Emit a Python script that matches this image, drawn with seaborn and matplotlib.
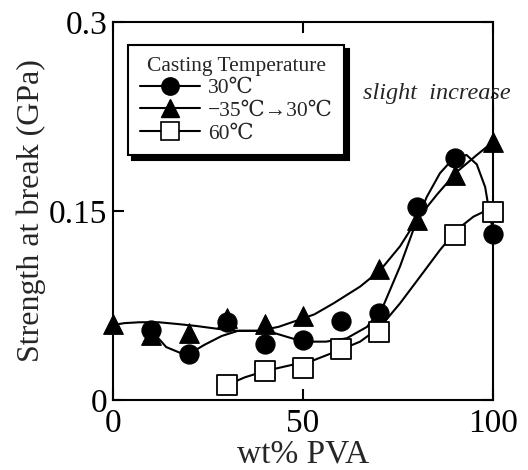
import numpy as np
import pandas as pd
import seaborn as sns
import matplotlib
matplotlib.use("Agg")
import matplotlib.pyplot as plt
from matplotlib.lines import Line2D

# measured points
pva_30 = [10, 20, 30, 40, 50, 60, 70, 80, 90, 100]
str_30 = [0.0556, 0.0363, 0.062, 0.0444, 0.0476, 0.063, 0.0688, 0.153, 0.192, 0.132]
pva_35 = [0, 10, 20, 30, 40, 50, 70, 80, 90, 100]
str_35 = [0.060, 0.0516, 0.053, 0.065, 0.060, 0.067, 0.104, 0.143, 0.179, 0.205]
pva_60 = [30, 40, 50, 60, 70, 90, 100]
str_60 = [0.012, 0.023, 0.025, 0.0405, 0.054, 0.131, 0.149]

# hand-drawn trend curves
cx_30 = [10, 14, 18, 20, 24, 28.6, 33, 38, 42.6, 47, 50.5, 53, 56, 61.5, 66.8, 71,
         75.5, 79, 82.5, 86, 89.6, 93, 95.7, 97.9, 99.2, 100]
cy_30 = [0.0556, 0.042, 0.037, 0.0365, 0.0437, 0.0508, 0.055, 0.055, 0.053, 0.049,
         0.0463, 0.0463, 0.0463, 0.049, 0.058, 0.074, 0.106, 0.135, 0.161, 0.18,
         0.192, 0.1945, 0.187, 0.169, 0.1455, 0.1336]
cx_35 = [0, 3, 7, 12, 17, 22, 28, 33, 38, 43.5, 48.8, 53, 58, 65, 70.3, 75.5, 79.9,
         85.2, 90.4, 95.7, 100]
cy_35 = [0.0595, 0.061, 0.0617, 0.0617, 0.0603, 0.0587, 0.0563, 0.0548, 0.0548,
         0.058, 0.0635, 0.068, 0.0767, 0.09, 0.103, 0.122, 0.143, 0.163, 0.181,
         0.1945, 0.205]
cx_60 = [30, 34.7, 40, 47, 53, 59.7, 65, 70.3, 75.5, 80.8, 86, 90.4, 94.8, 97.9, 100]
cy_60 = [0.0119, 0.018, 0.023, 0.0278, 0.0318, 0.0397, 0.0463, 0.058, 0.0767, 0.098,
         0.119, 0.135, 0.1455, 0.15, 0.1495]

labels = ["30\u2103", "\u221235\u2103\u219230\u2103", "60\u2103"]

sns.set_style("ticks")
serif = ["Liberation Serif", "DejaVu Serif"]
plt.rcParams["font.family"] = serif

fig = plt.figure(figsize=(5.28, 4.70), dpi=100)
ax = fig.add_axes([0.214, 0.149, 0.72, 0.804])

lw = 1.5
for cx, cy in [(cx_30, cy_30), (cx_35, cy_35), (cx_60, cy_60)]:
    sns.lineplot(x=cx, y=cy, ax=ax, color="black", lw=lw, sort=False,
                 estimator=None, zorder=2, clip_on=False)

sns.scatterplot(x=pva_30, y=str_30, ax=ax, marker="o", s=190, color="black",
                edgecolor="black", linewidth=0.8, zorder=3, clip_on=False)
sns.scatterplot(x=pva_35, y=str_35, ax=ax, marker="^", s=200, color="black",
                edgecolor="black", linewidth=0.8, zorder=3, clip_on=False)
sns.scatterplot(x=pva_60, y=str_60, ax=ax, marker="s", s=190, color="white",
                edgecolor="black", linewidth=1.3, zorder=3, clip_on=False)

ax.set_xlim(0, 100)
ax.set_ylim(0, 0.3)
ax.set_xticks([0, 50, 100])
ax.set_xticklabels(["0", "50", "100"])
ax.set_yticks([0, 0.15, 0.3])
ax.set_yticklabels(["0", "0.15", "0.3"])
ax.tick_params(direction="in", top=True, right=True, length=8, width=1.5,
               labelsize=24, colors="black")
ax.tick_params(axis="x", pad=6)
ax.tick_params(axis="y", pad=4)
for sp in ax.spines.values():
    sp.set_linewidth(1.5)
    sp.set_color("black")

ax.set_xlabel("wt% PVA", fontsize=24, labelpad=0)
ax.set_ylabel("Strength at break (GPa)", fontsize=23, labelpad=2)

ax.annotate("", xy=(100, 0.212), xytext=(100, 0.236),
            arrowprops=dict(arrowstyle="-", color="black", lw=1.3))
ax.text(85.3, 0.243, "slight  increase", fontsize=17.5, style="italic",
        ha="center", va="center")

handles = [
    Line2D([], [], color="black", lw=lw, marker="o", markersize=12.5),
    Line2D([], [], color="black", lw=lw, marker="^", markersize=12.5),
    Line2D([], [], color="black", lw=lw, marker="s", markersize=12.5,
           markerfacecolor="white", markeredgewidth=1.2),
]
leg = ax.legend(handles, labels, title="Casting Temperature", loc="upper left",
                bbox_to_anchor=(0.04, 0.94), borderaxespad=0, fontsize=15.5,
                title_fontsize=15.5, handlelength=2.8, handletextpad=0.35,
                labelspacing=0.12, borderpad=0.55, fancybox=False,
                framealpha=1, edgecolor="black",
                shadow={"ox": 3, "oy": -3, "color": "black", "alpha": 1})
leg.get_frame().set_linewidth(1.5)

fig.savefig("out.png", dpi=100)
